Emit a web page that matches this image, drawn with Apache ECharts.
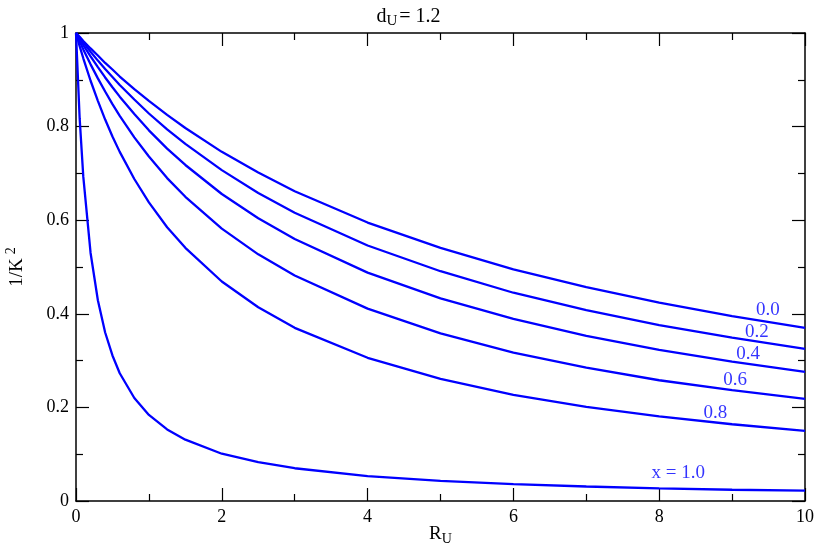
<!DOCTYPE html>
<html>
<head>
<meta charset="utf-8">
<script src="https://cdn.jsdelivr.net/npm/echarts@6/dist/echarts.min.js"></script>
<style>
  html, body { margin: 0; padding: 0; background: #fff; }
  #chart { width: 817px; height: 545px; }
</style>
</head>
<body>
<div id="chart"></div>
<script>
// R_U sample points (denser near 0 where x = 1.0 drops fast)
const ru = [0, 0.05, 0.1, 0.2, 0.3, 0.4, 0.5, 0.6, 0.8, 1, 1.25, 1.5, 2, 2.5, 3, 4, 5, 6, 7, 8, 9, 10]

// 1/K^2, one array per x
const x00 = [1, 0.992, 0.983, 0.967, 0.952, 0.936, 0.922, 0.907, 0.880, 0.855, 0.825, 0.797, 0.746, 0.702, 0.662, 0.595, 0.541, 0.495, 0.457, 0.424, 0.395, 0.370]
const x02 = [1, 0.990, 0.980, 0.960, 0.941, 0.923, 0.906, 0.889, 0.858, 0.828, 0.794, 0.763, 0.707, 0.658, 0.616, 0.546, 0.491, 0.445, 0.408, 0.376, 0.349, 0.325]
const x04 = [1, 0.987, 0.974, 0.950, 0.927, 0.905, 0.884, 0.864, 0.827, 0.792, 0.753, 0.718, 0.656, 0.604, 0.560, 0.488, 0.433, 0.389, 0.353, 0.323, 0.298, 0.276]
const x06 = [1, 0.982, 0.965, 0.933, 0.903, 0.875, 0.848, 0.823, 0.777, 0.736, 0.690, 0.650, 0.582, 0.527, 0.482, 0.411, 0.358, 0.317, 0.285, 0.258, 0.237, 0.218]
const x08 = [1, 0.972, 0.946, 0.898, 0.855, 0.815, 0.779, 0.746, 0.688, 0.638, 0.585, 0.541, 0.469, 0.414, 0.370, 0.306, 0.261, 0.227, 0.201, 0.181, 0.164, 0.150]
const x10 = [1, 0.818, 0.693, 0.530, 0.429, 0.360, 0.311, 0.273, 0.220, 0.184, 0.153, 0.131, 0.101, 0.083, 0.070, 0.053, 0.043, 0.036, 0.031, 0.027, 0.024, 0.022]

// curve labels (text, R_U, 1/K^2 where the text sits)
const labelText = ['0.0', '0.2', '0.4', '0.6', '0.8', 'x = 1.0']
const labelR = [9.49, 9.34, 9.22, 9.04, 8.77, 8.26]
const labelV = [0.408, 0.361, 0.314, 0.259, 0.188, 0.060]

const xTicks = { min: 0, max: 10, interval: 2 }
const yTicks = { min: 0, max: 1, interval: 0.2 }

const BLUE = '#0000ff'
const FONT = 'Liberation Serif'

const curves = [x00, x02, x04, x06, x08, x10]

function axisCommon(showLabel) {
  return {
    axisLine: { show: true, onZero: false, lineStyle: { color: '#000', width: 1.5 } },
    axisTick: { show: true, inside: true, length: 13, lineStyle: { color: '#000', width: 1.2 } },
    minorTick: { show: true, splitNumber: 2, length: 7, lineStyle: { color: '#000', width: 1.2 } },
    splitLine: { show: false },
    axisLabel: { show: showLabel, color: '#000', fontFamily: FONT, fontSize: 18, margin: 7 }
  }
}

const chart = echarts.init(document.getElementById('chart'))

chart.setOption({
  animation: false,
  backgroundColor: '#fff',
  textStyle: { fontFamily: FONT },
  title: {
    text: 'd{sub|U}= 1.2',
    left: 'center',
    top: 0,
    textStyle: {
      fontFamily: FONT, fontSize: 20, fontWeight: 'normal', color: '#000',
      rich: { sub: { fontFamily: FONT, fontSize: 15, color: '#000', padding: [9, 2, 0, 0] } }
    }
  },
  // no outer-bounds shrinking: keep the plot rectangle where the reference has it
  grid: { left: 76, right: 12, top: 33, bottom: 44, outerBoundsMode: 'none', containLabel: false },
  xAxis: [
    {
      type: 'value', position: 'bottom', ...xTicks,
      ...axisCommon(true),
      name: 'R{sub|U}',
      nameLocation: 'middle',
      nameGap: 21,
      nameMoveOverlap: false,
      nameTextStyle: {
        fontFamily: FONT, fontSize: 19, color: '#000',
        rich: { sub: { fontFamily: FONT, fontSize: 14, color: '#000', padding: [10, 0, 0, 0] } }
      }
    },
    { type: 'value', position: 'top', ...xTicks, ...axisCommon(false) }
  ],
  yAxis: [
    {
      type: 'value', position: 'left', ...yTicks,
      ...axisCommon(true),
      name: '1/K{sup|2}',
      nameLocation: 'middle',
      nameGap: 46,
      nameTextStyle: {
        fontFamily: FONT, fontSize: 19, color: '#000',
        rich: { sup: { fontFamily: FONT, fontSize: 14, color: '#000', padding: [0, 0, 12, 4] } }
      }
    },
    { type: 'value', position: 'right', ...yTicks, ...axisCommon(false) }
  ],
  series: [
    ...curves.map((vals, i) => ({
      name: labelText[i],
      type: 'line',
      xAxisIndex: 0,
      yAxisIndex: 0,
      showSymbol: false,
      smooth: false,
      lineStyle: { color: BLUE, width: 2.3 },
      itemStyle: { color: BLUE },
      data: ru.map((r, k) => [r, vals[k]])
    })),
    {
      name: 'labels',
      type: 'scatter',
      silent: true,
      symbolSize: 0,
      label: {
        show: true,
        position: 'inside',
        color: BLUE,
        fontFamily: FONT,
        fontSize: 19,
        formatter: (p) => p.data[2]
      },
      data: labelText.map((t, i) => [labelR[i], labelV[i], t])
    }
  ]
})
</script>
</body>
</html>
